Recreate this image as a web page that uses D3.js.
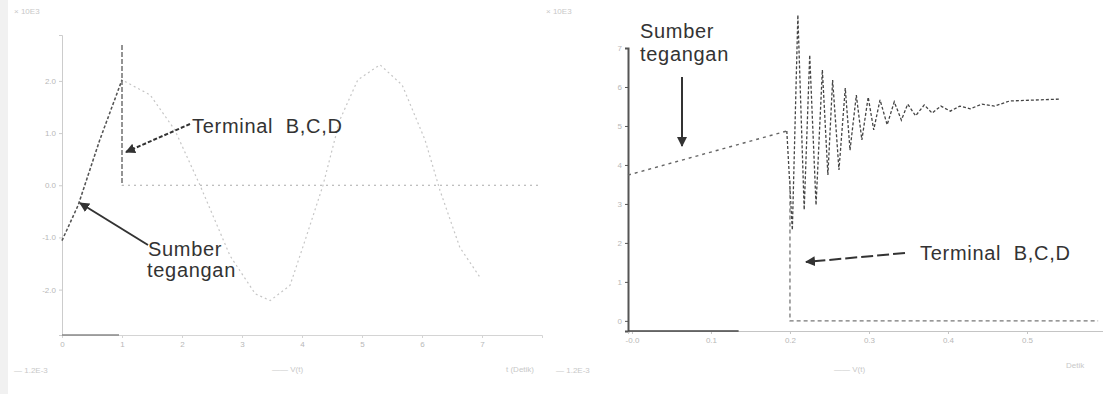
<!DOCTYPE html>
<html>
<head>
<meta charset="utf-8">
<script src="https://cdn.jsdelivr.net/npm/d3@7"></script>
<style>
  body { margin: 0; background: #fff; }
  svg { display: block; font-family: "Liberation Sans", Arial, sans-serif; }
  .tick text { fill: #b8b8b8; font-size: 8px; }
  .note { fill: #333; font-size: 20px; letter-spacing: 0.7px; white-space: pre; }
  .faint { fill: #c8c8c8; font-size: 8px; }
</style>
</head>
<body>
<div id="chart"></div>
<script>
// left panel: source voltage and terminal B,C,D (time in ms, voltage per unit)
const leftSrcT = [0, 0.27, 0.63, 1.0, 1.47, 1.88, 2.3, 2.8, 3.22, 3.47, 3.8, 4.05, 4.35, 4.63, 4.93, 5.3, 5.67, 6.05, 6.3, 6.63, 6.97];
const leftSrcV = [-1.06, -0.38, 0.87, 2.02, 1.73, 1.06, 0, -1.35, -2.08, -2.21, -1.92, -1.06, 0, 1.25, 2.02, 2.31, 1.92, 0.87, -0.1, -1.19, -1.77];
const leftTermT = [1.0, 1.0, 7.95];
const leftTermV = [2.69, 0, 0];
const leftXTicks = [0, 1, 2, 3, 4, 5, 6, 7];
const leftYTicks = [-2, -1, 0, 1, 2];

// right panel: source ramp, post-switching oscillation, terminal B,C,D
const rightSrcT = [-0.05, 1.96];
const rightSrcV = [3.74, 4.87];
const rightOscT = [1.96, 2.03, 2.10, 2.18, 2.25, 2.33, 2.41, 2.48, 2.54, 2.62, 2.70, 2.76, 2.84, 2.91, 2.99, 3.06, 3.14, 3.23, 3.32, 3.41, 3.49, 3.59, 3.70, 3.80, 3.91, 4.03, 4.15, 4.28, 4.43, 4.59, 4.78, 5.42];
const rightOscV = [4.87, 2.33, 7.85, 2.85, 6.82, 2.97, 6.44, 3.74, 6.18, 3.87, 5.97, 4.38, 5.79, 4.64, 5.74, 4.90, 5.67, 5.03, 5.62, 5.15, 5.56, 5.26, 5.54, 5.33, 5.51, 5.38, 5.51, 5.44, 5.56, 5.51, 5.64, 5.69];
const rightTermT = [2.0, 2.0, 5.9];
const rightTermV = [3.6, 0, 0];
const rightXTicks = [0, 1, 2, 3, 4, 5];
const rightXLabels = ["-0.0", "0.1", "0.2", "0.3", "0.4", "0.5"];
const rightYTicks = [0, 1, 2, 3, 4, 5, 6, 7];

const W = 1103, H = 394;
const svg = d3.select('#chart').append('svg').attr('width', W).attr('height', H);
svg.append('rect').attr('width', W).attr('height', H).attr('fill', '#fff');
svg.append('rect').attr('width', 8).attr('height', H).attr('fill', '#f1f1f1');

const zip = (t, v) => t.map((d, i) => [d, v[i]]);

svg.append('defs').append('marker')
  .attr('id', 'arr').attr('viewBox', '0 0 10 10')
  .attr('refX', 9).attr('refY', 5)
  .attr('markerWidth', 5).attr('markerHeight', 5)
  .attr('orient', 'auto')
  .append('path').attr('d', 'M0,0 L10,5 L0,10 Z').attr('fill', '#333');

function styleAxis(g, col) {
  g.select('.domain').attr('stroke', col);
  g.selectAll('.tick line').attr('stroke', col);
}

// ---------- left panel ----------
const lx = d3.scaleLinear().domain([0, 8]).range([62, 542]);
const ly = d3.scaleLinear().domain([-2.87, 2.88]).range([335, 35]);
const left = svg.append('g');

left.append('g').attr('transform', 'translate(62,0)')
  .call(d3.axisLeft(ly).tickValues(leftYTicks).tickSize(3).tickFormat(d => d.toFixed(1)))
  .call(g => styleAxis(g, '#cccccc'));
left.append('g').attr('transform', 'translate(0,335)')
  .call(d3.axisBottom(lx).tickValues(leftXTicks).tickSize(3).tickFormat(d3.format('d')))
  .call(g => styleAxis(g, '#d4d4d4'));
left.append('line').attr('x1', lx(0)).attr('x2', lx(0.95)).attr('y1', 335).attr('y2', 335)
  .attr('stroke', '#888').attr('stroke-width', 1.5);

const lLine = d3.line().x(d => lx(d[0])).y(d => ly(d[1]));
const lSrc = zip(leftSrcT, leftSrcV);
left.append('path').attr('d', lLine(lSrc)).attr('fill', 'none')
  .attr('stroke', '#c6c6c6').attr('stroke-width', 1.2).attr('stroke-dasharray', '2,3');
left.append('path').attr('d', lLine(lSrc.slice(0, 4))).attr('fill', 'none')
  .attr('stroke', '#555').attr('stroke-width', 1.5).attr('stroke-dasharray', '3,2');
const lTerm = zip(leftTermT, leftTermV);
left.append('path').attr('d', lLine(lTerm.slice(0, 2))).attr('fill', 'none')
  .attr('stroke', '#666').attr('stroke-width', 1.4).attr('stroke-dasharray', '5,2');
left.append('path').attr('d', lLine(lTerm.slice(1))).attr('fill', 'none')
  .attr('stroke', '#aaa').attr('stroke-width', 1.2).attr('stroke-dasharray', '2,4');

left.append('line').attr('x1', 190).attr('y1', 124).attr('x2', 126).attr('y2', 152)
  .attr('stroke', '#333').attr('stroke-width', 2).attr('stroke-dasharray', '4,2')
  .attr('marker-end', 'url(#arr)');
left.append('text').attr('class', 'note').attr('x', 192).attr('y', 133).text('Terminal  B,C,D');
left.append('line').attr('x1', 148).attr('y1', 245).attr('x2', 80).attr('y2', 203)
  .attr('stroke', '#333').attr('stroke-width', 2).attr('marker-end', 'url(#arr)');
left.append('text').attr('class', 'note').attr('x', 148).attr('y', 256).text('Sumber');
left.append('text').attr('class', 'note').attr('x', 147).attr('y', 277).text('tegangan');

left.append('text').attr('class', 'faint').attr('x', 14).attr('y', 14).text('× 10E3');
left.append('text').attr('class', 'faint').attr('x', 14).attr('y', 373).text('— 1.2E-3');
left.append('text').attr('class', 'faint').attr('x', 272).attr('y', 372).text('—— V(t)');
left.append('text').attr('class', 'faint').attr('x', 506).attr('y', 372).text('t (Detik)');

// ---------- right panel ----------
const rx = d3.scaleLinear().domain([-0.05, 6]).range([628, 1106]);
const ry = d3.scaleLinear().domain([-0.26, 7]).range([331, 48]);
const right = svg.append('g');

right.append('g').attr('transform', 'translate(628,0)')
  .call(d3.axisLeft(ry).tickValues(rightYTicks).tickSize(3).tickFormat(d3.format('d')))
  .call(g => styleAxis(g, '#555'))
  .call(g => g.select('.domain').attr('stroke-width', 2));
right.append('g').attr('transform', 'translate(0,331)')
  .call(d3.axisBottom(rx).tickValues(rightXTicks).tickSize(3).tickFormat((d, i) => rightXLabels[i]))
  .call(g => styleAxis(g, '#c4c4c4'));
right.append('line').attr('x1', rx(-0.05)).attr('x2', rx(1.35)).attr('y1', 331).attr('y2', 331)
  .attr('stroke', '#444').attr('stroke-width', 1.5);

const rLine = d3.line().x(d => rx(d[0])).y(d => ry(d[1]));
right.append('path').attr('d', rLine(zip(rightSrcT, rightSrcV))).attr('fill', 'none')
  .attr('stroke', '#666').attr('stroke-width', 1.4).attr('stroke-dasharray', '3,4');
right.append('path').attr('d', rLine(zip(rightOscT, rightOscV))).attr('fill', 'none')
  .attr('stroke', '#444').attr('stroke-width', 1.3).attr('stroke-dasharray', '3,2');
right.append('path').attr('d', rLine(zip(rightTermT, rightTermV))).attr('fill', 'none')
  .attr('stroke', '#777').attr('stroke-width', 1.3).attr('stroke-dasharray', '4,3');

right.append('line').attr('x1', 682).attr('y1', 77).attr('x2', 682).attr('y2', 146)
  .attr('stroke', '#333').attr('stroke-width', 2).attr('marker-end', 'url(#arr)');
right.append('text').attr('class', 'note').attr('x', 640).attr('y', 38).text('Sumber');
right.append('text').attr('class', 'note').attr('x', 640).attr('y', 61).text('tegangan');
right.append('line').attr('x1', 905).attr('y1', 253).attr('x2', 806).attr('y2', 262)
  .attr('stroke', '#333').attr('stroke-width', 2).attr('stroke-dasharray', '12,4')
  .attr('marker-end', 'url(#arr)');
right.append('text').attr('class', 'note').attr('x', 920).attr('y', 260).text('Terminal  B,C,D');

right.append('text').attr('class', 'faint').attr('x', 546).attr('y', 14).text('× 10E3');
right.append('text').attr('class', 'faint').attr('x', 556).attr('y', 373).text('— 1.2E-3');
right.append('text').attr('class', 'faint').attr('x', 834).attr('y', 372).text('—— V(t)');
right.append('text').attr('class', 'faint').attr('x', 1066).attr('y', 368).text('Detik');
</script>
</body>
</html>
